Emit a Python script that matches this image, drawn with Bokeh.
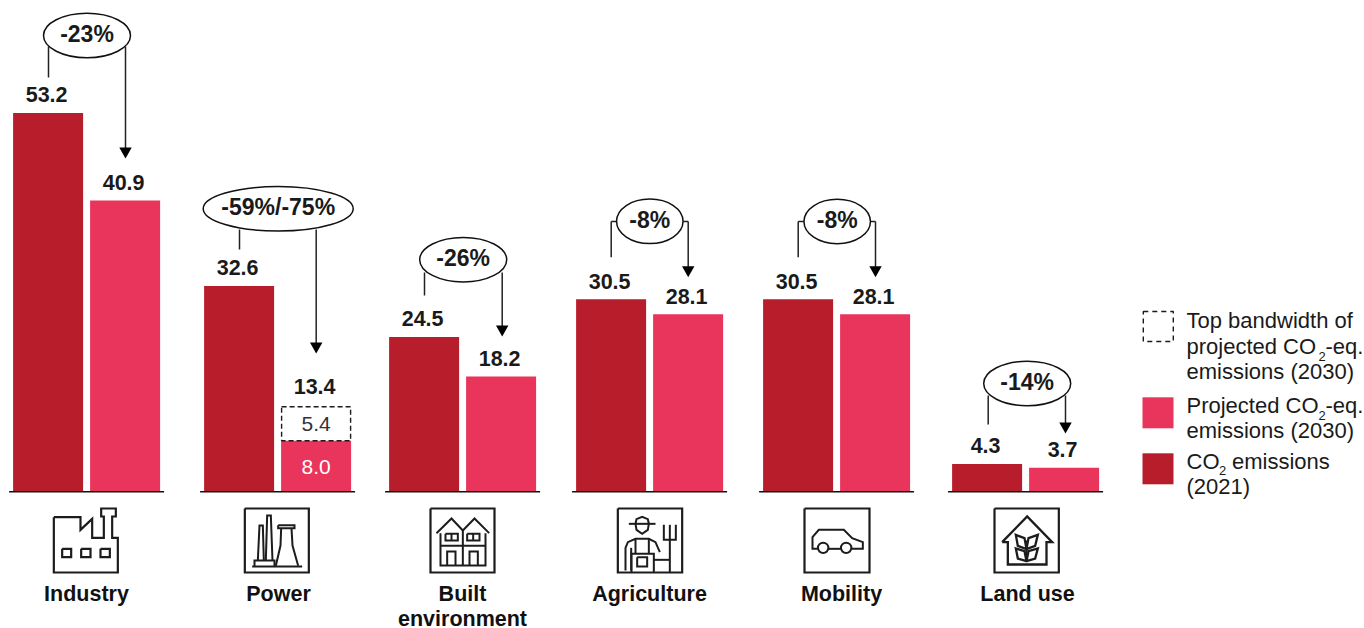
from bokeh.core.properties import value
from bokeh.embed import file_html
from bokeh.models import Range1d
from bokeh.plotting import figure
from bokeh.resources import INLINE

# Emissions by sector, in Gt of CO2 and CO2-equivalent
sectors = ["Industry", "Power", "Built\nenvironment", "Agriculture", "Mobility", "Land use"]
emissions_2021 = [53.2, 32.6, 24.5, 30.5, 30.5, 4.3]
projected_2030 = [40.9, 8.0, 18.2, 28.1, 28.1, 3.7]
bandwidth_top_2030 = [None, 13.4, None, None, None, None]
bandwidth_label = "5.4"
change_labels = ["-23%", "-59%/-75%", "-26%", "-8%", "-8%", "-14%"]

DARK = "#B71D2B"
PINK = "#E9345B"
INK = "#1A1A1A"
FONT = value("Liberation Sans")

W, H = 1364, 628
BASE = 490.6
UNIT = 6.29           # pixels per unit for most sectors
UNIT_INDUSTRY = 7.105  # the Industry group has its own, taller scale
CAP = 0.36            # text is anchored on its middle: lift by this share of the size

# Layout of each group: left edge of the 2021 bar, callout ellipse, connector
BAR_W = 70
BAR_STEP = 77
group_left = [12.6, 203.6, 388.6, 575.6, 762.6, 951.6]
label_x = [86, 278, 462, 649, 841, 1027]
callouts = [
    dict(cx=86.5, cy=35, w=87, h=44.5, lx=48, ly0=46, ly1=77, rx=125, ry0=46, tip=158, side=False),
    dict(cx=277.7, cy=208.3, w=150, h=44.5, lx=239, ly0=229, ly1=249, rx=315.7, ry0=229, tip=353, side=False),
    dict(cx=462.7, cy=259.2, w=87, h=44.5, lx=424, ly0=272, ly1=295, rx=501.7, ry0=272, tip=336, side=False),
    dict(cx=649.3, cy=220.8, w=66.5, h=44.5, lx=610.7, ly0=221, ly1=256.7, rx=687.7, ry0=221, tip=276.7, side=True),
    dict(cx=836.7, cy=221, w=66.5, h=44.5, lx=797.7, ly0=221, ly1=256.7, rx=875, ry0=221, tip=276.7, side=True),
    dict(cx=1026.7, cy=383, w=87, h=44.5, lx=987.7, ly0=395, ly1=424, rx=1065, ry0=395, tip=433, side=False),
]

p = figure(
    width=W, height=H, output_backend="svg", toolbar_location=None,
    x_range=Range1d(0, W),
    y_range=Range1d(-(H - BASE) / UNIT, BASE / UNIT),
    min_border=0, outline_line_color=None, background_fill_color="white",
    border_fill_color="white",
)
p.axis.visible = False
p.grid.visible = False
p.extra_y_ranges = {
    "industry": Range1d(-(H - BASE) / UNIT_INDUSTRY, BASE / UNIT_INDUSTRY),
    "page": Range1d(H, 0),  # y counted in pixels from the top, for annotations
}


def value_text(x, y, s, range_name, gap):
    p.text(x=x, y=y, text=s, text_font=FONT, text_font_style="bold", text_font_size="21.5px",
           text_color=INK, text_align="center", text_baseline="middle",
           y_offset=-(gap + CAP * 21.5), y_range_name=range_name)


def bars_and_values(indices, range_name):
    left = [group_left[i] + BAR_W / 2 for i in indices]
    right = [group_left[i] + BAR_STEP + BAR_W / 2 for i in indices]
    old = [emissions_2021[i] for i in indices]
    new = [projected_2030[i] for i in indices]
    p.vbar(x=left, top=old, bottom=0, width=BAR_W, fill_color=DARK, line_color=None, y_range_name=range_name)
    p.vbar(x=right, top=new, bottom=0, width=BAR_W, fill_color=PINK, line_color=None, y_range_name=range_name)
    value_text([v - 1.5 for v in left], old, [f"{v:.1f}" for v in old], range_name, 10.5)
    keep = [k for k, i in enumerate(indices) if bandwidth_top_2030[i] is None]
    value_text([right[k] - 1.5 for k in keep], [new[k] for k in keep],
               [f"{new[k]:.1f}" for k in keep], range_name, 10.5)


bars_and_values([0], "industry")
bars_and_values([1, 2, 3, 4, 5], "default")

# Dashed upper bandwidth on top of the Power projection
i = 1
cx = group_left[i] + BAR_STEP + BAR_W / 2
low, high = projected_2030[i], bandwidth_top_2030[i]
p.vbar(x=[cx], bottom=[low], top=[high], width=BAR_W - 1, fill_color=None,
       line_color=INK, line_width=1.4, line_dash="5 3")
value_text([cx - 1.5], [high], [f"{high:.1f}"], "default", 13)
p.text(x=[cx], y=[(low + high) / 2], text=[bandwidth_label], text_font=FONT, text_font_size="21px",
       text_color="#333333", text_align="center", text_baseline="middle", y_offset=0)
p.text(x=[cx], y=[low / 2], text=[f"{low:.1f}"], text_font=FONT, text_font_size="21px",
       text_color="white", text_align="center", text_baseline="middle", y_offset=1)

# Baseline under each pair of bars
for left in group_left:
    p.line([left - 4, left + BAR_STEP + BAR_W + 4], [491.2] * 2, y_range_name="page",
           line_color="#111111", line_width=1.6)


def page_text(x, y, s, size=22, bold=False, align="left", color=INK):
    # y is the baseline of the text, in pixels from the top
    p.text(x=[x], y=[y - CAP * size], text=[s], text_font=FONT, text_font_size=f"{size}px",
           text_font_style="bold" if bold else "normal", text_color=color,
           text_align=align, text_baseline="middle", y_range_name="page")


# Percentage callouts with their connectors and arrows
for c, lab in zip(callouts, change_labels):
    p.line([c["lx"], c["lx"]], [c["ly0"], c["ly1"]], y_range_name="page", line_color="#222222", line_width=1.5)
    p.line([c["rx"], c["rx"]], [c["ry0"], c["tip"] - 8], y_range_name="page", line_color="#222222", line_width=1.5)
    if c["side"]:
        p.line([c["lx"], c["cx"] - c["w"] / 2], [c["ly0"]] * 2, y_range_name="page", line_color="#222222", line_width=1.5)
        p.line([c["rx"], c["cx"] + c["w"] / 2], [c["ry0"]] * 2, y_range_name="page", line_color="#222222", line_width=1.5)
    p.ellipse(x=[c["cx"]], y=[c["cy"]], width=[c["w"]], height=[c["h"]], y_range_name="page",
              fill_color="white", line_color="#111111", line_width=1.5)
    p.patch([c["rx"] - 6.2, c["rx"] + 6.2, c["rx"]], [c["tip"] - 11, c["tip"] - 11, c["tip"]],
            y_range_name="page", color="#000000", line_width=0)
    page_text(c["cx"], c["cy"] + 6.5, lab, size=23, bold=True, align="center")

# Sector names
for name, x in zip(sectors, label_x):
    for n, line in enumerate(name.split("\n")):
        page_text(x, 601.5 + 24.5 * n, line, size=21.5, bold=True, align="center", color="#111111")

# Legend
p.rect(x=[1157.8], y=[326], width=[30], height=[30], y_range_name="page", fill_color=None,
       line_color=INK, line_width=1.4, line_dash="5 4")
p.rect(x=[1157.5], y=[412.3], width=[31], height=[31], y_range_name="page", fill_color=PINK, line_color=None)
p.rect(x=[1157.5], y=[468.3], width=[31], height=[31], y_range_name="page", fill_color=DARK, line_color=None)
LX = 1186
page_text(LX, 328, "Top bandwidth of")
page_text(LX, 354, "projected CO")
page_text(1318, 360.5, "2", size=13)
page_text(1325, 354, "-eq.")
page_text(LX, 379, "emissions (2030)")
page_text(LX, 413, "Projected CO")
page_text(1318, 419.5, "2", size=13)
page_text(1325, 413, "-eq.")
page_text(LX, 438, "emissions (2030)")
page_text(LX, 469, "CO")
page_text(1218.5, 475, "2", size=13)
page_text(1231.5, 469, "emissions")
page_text(LX, 494, "(2021)")


# Sector icons, outlined on a grid of thirds of a pixel
def stroke(ox, oy, *paths, width=2.2):
    for pts in paths:
        p.line([ox + a / 3 for a, _ in pts], [oy + b / 3 for _, b in pts], y_range_name="page",
               line_color="#1C1C1C", line_width=width, line_join="miter", line_cap="butt")


def box(a, b, c, d):
    return [(a, b), (c, b), (c, d), (a, d), (a, b)]


# Factory
stroke(0, 490,
       [(160, 80), (240, 80), (240, 118), (275, 85), (275, 142), (310, 142), (310, 78), (302, 78), (302, 54),
        (346, 54), (346, 78), (335, 78), (335, 142), (352, 142), (352, 246), (160, 246), (160, 80)],
       box(185, 175, 212, 200), box(242, 175, 270, 200), box(300, 175, 328, 200))
# Power plant
stroke(0, 490, box(733, 54, 925, 246))
stroke(0, 490,
       [(772, 210), (777, 105), (787, 105), (790, 210)],
       [(796, 210), (800, 75), (811, 75), (816, 210)],
       box(833, 104, 882, 113),
       [(842, 113), (840, 165), (826, 226)],
       [(873, 113), (876, 165), (893, 226)],
       [(762, 228), (762, 210), (822, 210), (822, 228)],
       [(755, 228), (905, 228)], width=2.0)
# Terraced houses
stroke(400, 490, box(90, 54, 282, 246))
stroke(400, 490,
       [(108, 128), (153, 84), (187, 120), (222, 84), (266, 128)],
       [(120, 128), (120, 225), (255, 225), (255, 128)],
       [(187, 120), (187, 225)],
       [(120, 166), (255, 166)],
       box(135, 130, 172, 150), box(200, 130, 237, 150),
       [(153, 130), (153, 150)], [(218, 130), (218, 150)],
       [(140, 225), (140, 183), (165, 183), (165, 225)],
       [(207, 225), (207, 183), (232, 183), (232, 225)], width=2.0)
# Farmer with a pitchfork
stroke(400, 490, box(652, 54, 845, 246))
stroke(400, 490,
       [(685, 100), (765, 100)],
       [(705, 100), (708, 86), (725, 79), (742, 86), (745, 100)],
       [(705, 100), (708, 118), (725, 130), (742, 118), (745, 100)],
       [(675, 240), (675, 172), (682, 155), (705, 145), (745, 145), (765, 155), (778, 185)],
       [(705, 145), (705, 190)], [(745, 145), (745, 190)],
       [(693, 246), (693, 190), (760, 190), (760, 246)],
       [(692, 172), (692, 240)],
       box(710, 200, 740, 228),
       [(760, 208), (808, 208)],
       [(790, 103), (790, 148), (826, 148), (826, 103)],
       [(808, 103), (808, 246)], width=2.0)
# Car
stroke(780, 490, box(72, 54, 267, 246))
stroke(780, 490,
       [(112, 175), (96, 175), (96, 140), (115, 118), (190, 118), (215, 143), (247, 155), (247, 175), (213, 175)],
       [(145, 175), (181, 175)], width=2.0)
p.circle(x=[780 + 128 / 3, 780 + 197 / 3], y=[490 + 172 / 3] * 2, radius=5.2, y_range_name="page",
         fill_color=None, line_color="#1C1C1C", line_width=2.0)
# Greenhouse with a plant
stroke(780, 490, box(642, 54, 835, 246))
stroke(780, 490,
       [(665, 155), (740, 78), (815, 155), (798, 155), (798, 222), (682, 222), (682, 155), (665, 155)],
       [(738, 150), (738, 215)],
       [(738, 176), (712, 166), (706, 133), (732, 143), (738, 176)],
       [(738, 176), (764, 166), (772, 133), (744, 143), (738, 176)],
       [(738, 212), (712, 204), (706, 174), (732, 182), (738, 212)],
       [(738, 212), (764, 204), (772, 174), (744, 182), (738, 212)], width=2.3)

open("out.html", "w").write(file_html(p, INLINE))
